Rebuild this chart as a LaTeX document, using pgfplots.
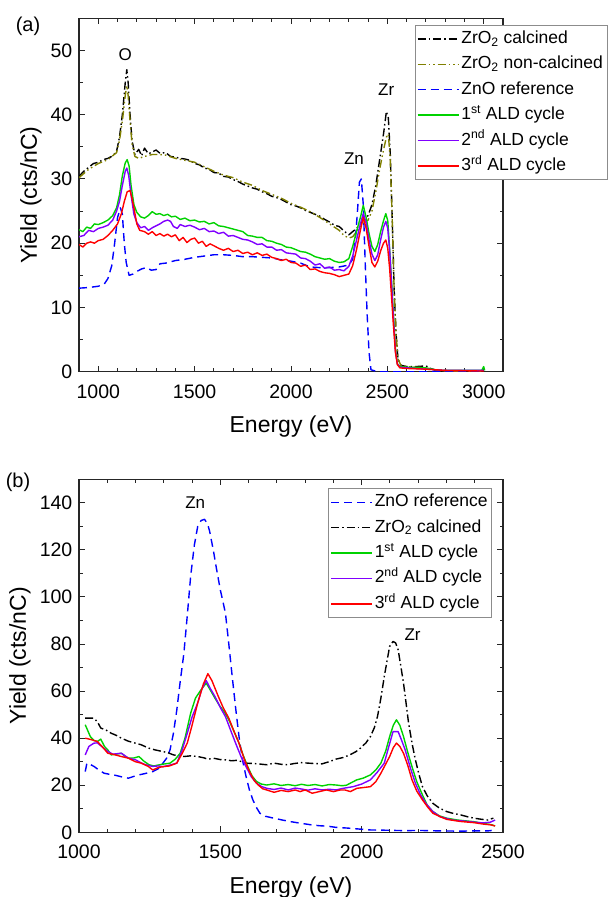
\documentclass[border=0pt]{standalone}
\usepackage{pgfplots}
\pgfplotsset{compat=1.18}
\usepackage{fontspec}
\setmainfont{Liberation Sans}
\definecolor{cgreen}{RGB}{0,210,0}
\definecolor{cpurple}{RGB}{128,0,255}
\definecolor{colive}{RGB}{128,128,0}
\definecolor{cblue}{RGB}{0,0,255}
\definecolor{cred}{RGB}{255,0,0}
\tikzset{
  calc/.style={draw=black, line width=1.4pt, dash pattern=on 8pt off 3pt on 1.5pt off 3pt},
  noncalc/.style={draw=colive, line width=1.4pt, dash pattern=on 8pt off 3pt on 1.5pt off 3pt on 1.5pt off 3pt},
  zno/.style={draw=cblue, line width=1.4pt, dash pattern=on 8pt off 5pt},
  ald1/.style={draw=cgreen, line width=1.4pt, solid},
  ald2/.style={draw=cpurple, line width=1.4pt, solid},
  ald3/.style={draw=cred, line width=1.4pt, solid},
}
\pgfplotsset{
  myaxis/.style={
    scale only axis,
    axis line style={line width=1.2pt, black!85},
    tick style={line width=1pt, black!85},
    tick align=inside,
    major tick length=6pt,
    minor tick length=3.5pt,
    /pgf/number format/assume math mode=true,
    /pgf/number format/1000 sep={},
    tick label style={font=\fontsize{19.5}{22}\selectfont, inner sep=2pt},
    xticklabel style={yshift=-10.5pt},
    yticklabel style={xshift=-4.5pt},
    label style={font=\fontsize{23}{27}\selectfont},
    xlabel style={yshift=-12.5pt},
    ylabel style={yshift=3.5pt},
    ylabel={Yield (cts/nC)},
    xlabel={Energy (eV)},
    legend cell align=left,
    legend style={draw=black!45, line width=0.8pt, font=\fontsize{17.5}{20}\selectfont,
      inner xsep=2pt, inner ysep=3pt,
      nodes={inner sep=2pt, text height=13pt, text depth=4pt}, row sep=4.4pt},
    legend image code/.code={\draw[#1] (0pt,0pt) -- (41pt,0pt);},
    every axis plot/.append style={line join=round},
  },
}
\begin{document}
\begin{tikzpicture}[x=1pt,y=1pt]
\useasboundingbox (0,0) rectangle (609,-897);
\node[font=\fontsize{20}{24}\selectfont] at (28,-26) {(a)};
\node[font=\fontsize{20}{24}\selectfont] at (18,-482) {(b)};
% ---------------- panel (a)
\begin{axis}[myaxis,
  at={(79pt,-371.7pt)}, anchor=south west,
  width=424pt, height=353.4pt,
  xmin=900, xmax=3100, ymin=0, ymax=55,
  xtick={1000,1500,2000,2500,3000}, minor x tick num=4,
  ytick={0,10,20,30,40,50}, minor y tick num=1,
  legend style={at={(1.246,0.981)}, anchor=north east},
]
\addplot[calc] coordinates {
(900,30.4)(925,31.2)(950,31.8)(975,32.4)(1000,32.6)(1025,33.0)(1050,33.2)(1075,33.6)(1095,34.3)(1110,36.5)(1125,40)(1140,45)(1148,47)(1155,45)(1165,40)(1175,36)(1190,33.8)(1210,34.6)(1225,33.6)(1240,34.8)(1260,33.9)(1280,34.2)(1300,34.5)(1320,34)(1350,34.1)(1375,33.5)(1400,33.4)(1425,33.2)(1450,33.1)(1475,32.9)(1500,32.4)(1525,32.2)(1550,31.7)(1575,31.5)(1600,31.0)(1625,30.9)(1650,30.4)(1675,30.3)(1700,29.9)(1725,29.6)(1750,29.2)(1775,28.9)(1800,28.6)(1825,28.4)(1850,28.0)(1875,27.7)(1900,27.3)(1925,27.1)(1950,26.8)(1975,26.4)(2000,26.0)(2025,25.8)(2050,25.5)(2075,25.1)(2100,24.8)(2125,24.5)(2150,24.2)(2175,23.7)(2200,23.3)(2225,22.8)(2250,22.6)(2275,21.9)(2300,21.3)(2320,21.8)(2340,22.3)(2360,23.0)(2380,23.8)(2400,24.3)(2420,26.0)(2440,29.0)(2460,33.0)(2480,37.0)(2495,40.5)(2505,39.5)(2515,34)(2525,24)(2535,13)(2545,6)(2555,2)(2570,1.0)(2600,0.8)(2650,0.8)(2700,0.9)(2725,0.5)(2750,0.2)(2800,0.1)(2900,0.1)(3000,0.1)};
\addlegendentry{ZrO\textsubscript{2} calcined}
\addplot[noncalc] coordinates {
(900,30.2)(950,31.5)(1000,32.4)(1050,33.0)(1095,34.1)(1110,36)(1125,39)(1140,43)(1148,44.5)(1155,43)(1165,39)(1175,35.5)(1190,33.5)(1210,33.2)(1240,33.5)(1280,33.8)(1320,33.8)(1350,33.7)(1400,33.2)(1450,32.9)(1500,32.6)(1550,31.9)(1600,31.2)(1650,30.6)(1700,30.2)(1750,29.5)(1800,29.0)(1850,28.2)(1900,27.6)(1950,27.0)(2000,26.2)(2050,25.6)(2100,24.9)(2150,24.0)(2200,23.0)(2250,22.0)(2275,21.2)(2300,20.8)(2320,21.0)(2340,21.8)(2360,22.6)(2380,23.2)(2400,23.6)(2420,25.0)(2440,28.0)(2460,31.5)(2480,34.5)(2495,36.5)(2505,37.0)(2515,33)(2525,24)(2535,13)(2545,6)(2555,2)(2570,1.0)(2600,0.8)(2700,0.6)(2750,0.3)(2800,0.1)(3000,0.1)};
\addlegendentry{ZrO\textsubscript{2} non-calcined}
\addplot[zno] coordinates {
(900,13.0)(950,13.1)(1000,13.3)(1030,13.6)(1050,14.5)(1070,16.5)(1085,20)(1100,24)(1115,25.5)(1125,24.5)(1135,20)(1145,17)(1160,15)(1180,15.2)(1200,15.6)(1225,16.0)(1250,16.2)(1275,15.8)(1300,15.9)(1320,16.8)(1350,16.9)(1400,17.3)(1450,17.5)(1500,17.8)(1550,18.0)(1600,18.2)(1650,18.2)(1700,18.1)(1750,17.9)(1800,17.9)(1850,17.8)(1900,17.7)(1950,17.4)(2000,17.2)(2050,16.9)(2100,16.3)(2150,16.2)(2200,16.2)(2250,16.3)(2300,16.6)(2320,17.5)(2335,21)(2345,25)(2355,29.5)(2365,30)(2375,26)(2385,17)(2395,9)(2405,3)(2415,0.3)(2450,0)(3000,0)};
\addlegendentry{ZnO reference}
\addplot[ald1] coordinates {
(900,22.1)(920,21.8)(940,22.5)(960,22.3)(980,23.0)(1000,22.9)(1025,23.2)(1050,23.6)(1075,24.3)(1095,25.5)(1110,27.5)(1125,30.5)(1140,32.5)(1150,33.0)(1160,32.0)(1170,29)(1185,26)(1200,24.8)(1220,24.1)(1240,23.9)(1260,24.3)(1280,24.9)(1300,24.5)(1320,24.6)(1340,24.3)(1360,24.5)(1380,24.1)(1400,24.2)(1425,23.7)(1450,23.9)(1475,23.5)(1500,23.6)(1525,23.3)(1550,23.4)(1575,23.0)(1600,23.2)(1625,22.7)(1650,22.6)(1675,22.4)(1700,22.2)(1725,22.0)(1750,21.8)(1775,21.2)(1800,21.1)(1825,20.9)(1850,20.9)(1875,20.4)(1900,20.3)(1925,20.0)(1950,19.8)(1975,19.4)(2000,19.3)(2025,19.0)(2050,18.7)(2075,18.6)(2100,18.3)(2125,17.9)(2150,17.7)(2175,17.5)(2200,17.6)(2225,17.2)(2250,17.0)(2275,17.1)(2300,17.6)(2320,19.5)(2340,21.8)(2360,24.0)(2375,25.9)(2390,24.0)(2405,21.5)(2420,19.5)(2435,18.7)(2450,19.8)(2465,21.8)(2480,23.5)(2492,24.6)(2502,23.5)(2512,19)(2522,14)(2532,8.5)(2542,3.5)(2552,1.2)(2565,0.8)(2600,0.7)(2700,0.6)(2750,0.3)(2800,0.2)(2900,0.2)(2990,0.2)(3000,0.8)(3005,0.2)};
\addlegendentry{1\textsuperscript{st} ALD cycle}
\addplot[ald2] coordinates {
(900,21.0)(925,21.2)(950,22.0)(975,21.8)(1000,22.3)(1025,22.5)(1050,22.8)(1075,23.6)(1095,25.0)(1110,26.5)(1125,29.0)(1140,31.2)(1148,31.7)(1158,30.5)(1170,27.5)(1185,24.5)(1200,23.2)(1220,22.4)(1240,22.6)(1260,22.0)(1280,22.4)(1300,22.7)(1320,23.0)(1340,23.4)(1360,23.6)(1375,23.4)(1390,22.6)(1410,22.3)(1425,22.9)(1450,22.6)(1475,22.8)(1500,22.5)(1525,22.1)(1550,22.3)(1575,21.8)(1600,21.9)(1625,21.5)(1650,21.7)(1675,21.1)(1700,21.2)(1725,20.9)(1750,20.6)(1775,20.5)(1800,20.2)(1825,19.8)(1850,19.9)(1875,19.4)(1900,19.4)(1925,18.9)(1950,19.0)(1975,18.5)(2000,18.4)(2025,18.3)(2050,17.7)(2075,17.6)(2100,17.2)(2125,16.6)(2150,16.8)(2175,16.1)(2200,16.3)(2225,15.8)(2250,15.9)(2275,15.7)(2300,16.4)(2320,18.0)(2340,20.5)(2360,23.0)(2375,24.6)(2390,23.2)(2405,20.5)(2420,18.3)(2435,17.3)(2450,18.2)(2465,20.5)(2480,22.5)(2492,23.4)(2502,22.3)(2512,18.8)(2522,13.5)(2532,8)(2542,3.2)(2552,1.2)(2565,0.7)(2600,0.6)(2700,0.4)(2800,0.2)(3000,0.2)};
\addlegendentry{2\textsuperscript{nd} ALD cycle}
\addplot[ald3] coordinates {
(900,19.8)(920,19.4)(940,20.0)(960,20.2)(980,20.0)(1000,20.4)(1025,20.6)(1050,21.2)(1075,22.0)(1100,23.0)(1120,24.6)(1135,26.5)(1150,28.0)(1165,28.2)(1175,27.0)(1185,25.5)(1200,23.0)(1215,22.0)(1240,21.8)(1260,21.4)(1280,21.8)(1300,21.2)(1320,21.5)(1340,21.1)(1360,21.4)(1380,21.0)(1400,21.3)(1420,20.4)(1440,20.9)(1460,20.1)(1480,20.6)(1500,20.8)(1520,20.0)(1540,20.3)(1560,19.5)(1580,19.9)(1600,19.6)(1625,19.2)(1650,18.9)(1675,19.2)(1700,18.7)(1725,18.9)(1750,18.4)(1775,18.6)(1800,18.2)(1825,18.5)(1850,18.1)(1875,18.3)(1900,17.8)(1925,17.6)(1950,17.3)(1975,17.5)(2000,17.0)(2025,16.9)(2050,16.4)(2075,16.6)(2100,15.9)(2125,16.0)(2150,15.6)(2175,15.4)(2200,15.3)(2225,15.1)(2250,14.8)(2275,15.0)(2300,15.2)(2320,16.5)(2340,19.0)(2360,22.0)(2375,24.0)(2390,22.3)(2405,19.5)(2420,17.0)(2435,16.3)(2450,17.2)(2465,18.8)(2480,20.0)(2492,20.5)(2502,19.2)(2512,16)(2522,11.5)(2532,7)(2542,3)(2552,1.1)(2565,0.6)(2600,0.5)(2700,0.4)(2800,0.2)(3000,0.1)};
\addlegendentry{3\textsuperscript{rd} ALD cycle}
\node[font=\fontsize{17}{20}\selectfont] at (axis cs:1140,49.3) {O};
\node[font=\fontsize{17}{20}\selectfont] at (axis cs:2327,33.2) {Zn};
\node[font=\fontsize{17}{20}\selectfont] at (axis cs:2494,43.9) {Zr};
\end{axis}
% ---------------- panel (b)
\begin{axis}[myaxis,
  at={(79pt,-832.3pt)}, anchor=south west,
  width=424pt, height=353pt,
  xmin=1000, xmax=2500, ymin=0, ymax=150,
  xtick={1000,1500,2000,2500}, minor x tick num=4,
  ytick={0,20,40,60,80,100,120,140}, minor y tick num=1,
  legend style={at={(0.974,0.9745)}, anchor=north east},
]
\addplot[zno] coordinates {
(1022,25.8)(1028,29.4)(1040,28.8)(1053,28.0)(1070,26.5)(1089,25.1)(1110,24.6)(1130,24.2)(1150,23.6)(1175,23.0)(1195,23.8)(1212,24.4)(1235,25.0)(1261,25.8)(1280,27.0)(1297,29.4)(1310,31.5)(1322,35)(1334,42)(1346,52)(1358,64)(1371,76)(1383,92)(1395,108.8)(1408,122)(1420,130)(1432,132.5)(1444,133)(1455,131)(1462,128)(1475,120)(1487,111.6)(1500,103)(1518,93.2)(1530,80)(1542,66.2)(1554,53)(1566,40.7)(1578,31)(1591,23.7)(1603,18)(1615,13.8)(1628,10.5)(1640,8.1)(1660,6.8)(1689,6.0)(1720,5.2)(1750,4.5)(1787,3.8)(1820,3.2)(1850,2.8)(1880,2.6)(1909,2.1)(1950,1.8)(1990,1.4)(2031,1.0)(2080,0.9)(2154,0.7)(2200,0.8)(2276,0.6)(2350,0.5)(2400,0.6)(2447,0.6)(2460,0.8)};
\addlegendentry{ZnO reference}
\addplot[calc] coordinates {
(1022,48.5)(1053,48.5)(1065,47)(1077,44.3)(1095,43.5)(1114,42.1)(1130,41.3)(1150,40.0)(1175,38.7)(1199,37.9)(1220,37.2)(1248,35.7)(1270,35.0)(1297,34.3)(1315,33.8)(1334,32.9)(1350,32.6)(1371,32.2)(1395,32.5)(1420,32.2)(1440,31.7)(1456,31.1)(1480,31.4)(1500,30.9)(1518,30.8)(1540,30.4)(1560,30.6)(1591,29.4)(1620,29.2)(1640,29.0)(1664,28.7)(1690,29.4)(1715,28.9)(1738,28.7)(1760,29.2)(1787,29.6)(1810,29.4)(1835,29.2)(1860,29.1)(1885,30.0)(1909,31.1)(1935,31.8)(1958,32.9)(1980,34.3)(1995,35.7)(2015,38.0)(2031,40.7)(2045,44.5)(2056,49.2)(2068,57)(2080,66.2)(2090,73)(2099,79)(2111,81.1)(2120,80.5)(2129,77.6)(2138,71)(2148,63.4)(2157,55)(2166,46.4)(2178,38)(2190,30.8)(2203,24.5)(2215,19.4)(2232,15.5)(2252,12.3)(2275,10.3)(2301,8.8)(2325,8.0)(2350,7.4)(2375,6.6)(2398,6.0)(2420,5.6)(2447,5.2)(2460,5.8)(2466,6.0)};
\addlegendentry{ZrO\textsubscript{2} calcined}
\addplot[ald1] coordinates {
(1022,45.7)(1030,43.5)(1040,40.7)(1053,39.0)(1065,38.6)(1077,39.6)(1090,36.5)(1102,35.0)(1114,32.9)(1130,33.2)(1150,33.6)(1162,32.4)(1175,31.5)(1195,31.6)(1212,32.2)(1230,30.2)(1248,28.7)(1265,28.2)(1285,28.7)(1300,29.0)(1322,29.4)(1340,31.0)(1358,33.6)(1375,40.0)(1395,50.6)(1412,57.0)(1432,60.6)(1450,63.4)(1462,61.0)(1481,57.0)(1499,53.5)(1515,51.0)(1530,47.8)(1548,43.0)(1566,37.9)(1580,33.0)(1597,27.9)(1612,24.0)(1628,21.6)(1645,20.5)(1664,20.1)(1690,20.6)(1715,19.9)(1740,20.3)(1765,19.8)(1787,20.4)(1810,19.9)(1835,20.3)(1860,19.7)(1885,20.3)(1909,20.1)(1930,19.8)(1946,20.0)(1965,21.2)(1983,22.3)(2005,23.0)(2031,24.4)(2050,26.5)(2068,29.4)(2085,34.5)(2099,40.7)(2112,45.5)(2123,47.8)(2135,45.5)(2148,40.7)(2163,34.0)(2178,27.9)(2195,21.5)(2215,15.9)(2232,11.5)(2252,8.8)(2275,7.0)(2301,6.0)(2340,5.2)(2398,4.5)(2430,3.8)(2460,3.2)(2472,2.7)};
\addlegendentry{1\textsuperscript{st} ALD cycle}
\addplot[ald2] coordinates {
(1022,32.9)(1035,36.5)(1053,37.9)(1065,38.0)(1080,36.5)(1100,34.5)(1120,33.2)(1150,33.6)(1175,31.5)(1200,30.8)(1220,29.5)(1236,28.7)(1260,28.0)(1280,28.2)(1297,27.9)(1320,28.5)(1346,29.4)(1365,35)(1383,42.1)(1400,49)(1420,55)(1435,61)(1450,64.5)(1465,61)(1481,57.7)(1500,53)(1518,49.2)(1536,43.5)(1554,37.9)(1572,32.5)(1591,27.9)(1610,23.5)(1628,20.9)(1645,19.5)(1664,18.7)(1690,18.2)(1715,18.8)(1740,18.0)(1765,18.8)(1787,18.4)(1810,17.9)(1835,18.5)(1860,18.0)(1885,18.3)(1909,18.0)(1935,18.7)(1970,19.4)(2000,20.5)(2031,22.3)(2055,25.5)(2080,29.4)(2095,36.0)(2111,42.8)(2129,42.8)(2140,39.5)(2154,35.0)(2172,27.5)(2190,20.9)(2208,16.0)(2227,12.3)(2250,9.0)(2276,6.7)(2320,5.2)(2360,4.8)(2398,4.3)(2430,4.0)(2455,4.3)(2472,5.2)};
\addlegendentry{2\textsuperscript{nd} ALD cycle}
\addplot[ald3] coordinates {
(1022,40.0)(1040,39.5)(1065,38.6)(1085,36.0)(1102,33.6)(1125,33.0)(1150,32.2)(1175,31.5)(1199,30.0)(1220,29.4)(1245,28.0)(1261,26.5)(1280,27.5)(1297,27.9)(1320,28.2)(1346,29.4)(1365,33.5)(1383,37.9)(1400,45.5)(1420,55.0)(1440,63.0)(1456,67.4)(1470,64.5)(1493,57.7)(1510,53.0)(1530,48.5)(1548,43.0)(1566,37.9)(1585,31.0)(1603,25.8)(1620,22.0)(1634,20.1)(1650,18.5)(1664,18.0)(1690,17.0)(1715,17.8)(1740,17.3)(1765,18.0)(1782,17.3)(1800,18.0)(1825,16.6)(1850,17.3)(1875,18.0)(1900,17.3)(1925,18.0)(1941,18.0)(1960,17.3)(1983,18.7)(2005,19.0)(2031,19.4)(2050,21.5)(2068,25.1)(2085,29.0)(2099,32.2)(2112,36.0)(2123,37.9)(2135,36.5)(2148,33.6)(2163,28.5)(2178,22.3)(2195,17.5)(2215,13.8)(2235,10.5)(2252,8.1)(2280,6.5)(2301,5.5)(2350,4.6)(2398,4.1)(2430,3.5)(2455,3.2)(2472,2.7)};
\addlegendentry{3\textsuperscript{rd} ALD cycle}
\node[font=\fontsize{17}{20}\selectfont] at (axis cs:1411,140) {Zn};
\node[font=\fontsize{17}{20}\selectfont] at (axis cs:2180,83.9) {Zr};
\end{axis}
\end{tikzpicture}
\end{document}
